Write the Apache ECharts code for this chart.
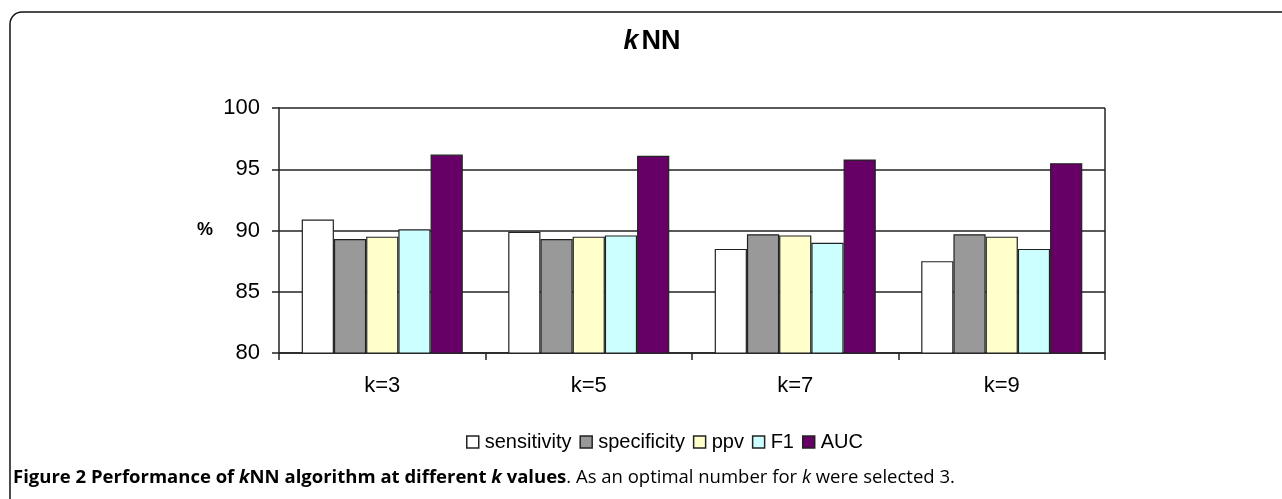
<!DOCTYPE html>
<html>
<head>
<meta charset="utf-8">
<script src="https://cdn.jsdelivr.net/npm/echarts@6/dist/echarts.min.js"></script>
<style>
  html, body { margin: 0; padding: 0; background: #fff; }
  #chart { width: 1282px; height: 499px; }
</style>
</head>
<body>
<div id="chart"></div>
<script>
const categories = ['k=3', 'k=5', 'k=7', 'k=9'];
const sensitivity = [90.9, 89.9, 88.5, 87.5];
const specificity = [89.3, 89.3, 89.7, 89.7];
const ppv = [89.5, 89.5, 89.6, 89.5];
const f1 = [90.1, 89.6, 89.0, 88.5];
const auc = [96.2, 96.1, 95.8, 95.5];
const yTicks = [80, 85, 90, 95, 100];

const seriesDefs = [
  { name: 'sensitivity', data: sensitivity, color: '#ffffff' },
  { name: 'specificity', data: specificity, color: '#999999' },
  { name: 'ppv', data: ppv, color: '#ffffcc' },
  { name: 'F1', data: f1, color: '#ccffff' },
  { name: 'AUC', data: auc, color: '#660066' }
];

const chart = echarts.init(document.getElementById('chart'));
const font = '"Liberation Sans", Arial, sans-serif';
const capFont = '"Open Sans", "Noto Sans", sans-serif';

chart.setOption({
  animation: false,
  backgroundColor: '#fff',
  title: {
    text: '{i|k}{b|NN}',
    left: 647,
    textAlign: 'center',
    top: 23,
    textStyle: {
      rich: {
        i: { fontFamily: font, fontSize: 27, fontWeight: 'bold', fontStyle: 'italic', color: '#000' },
        b: { fontFamily: font, fontSize: 27, fontWeight: 'bold', color: '#000', padding: [0, 0, 0, 3] }
      }
    }
  },
  grid: { left: 279, right: 177, top: 108, bottom: 146 },
  legend: {
    left: 461,
    top: 427,
    icon: 'rect',
    itemWidth: 12,
    itemHeight: 12,
    itemGap: 8,
    textStyle: { fontFamily: font, fontSize: 20, color: '#000', padding: [0, 0, 0, 1] },
    itemStyle: { borderColor: '#222', borderWidth: 1.5 },
    data: seriesDefs.map(s => s.name)
  },
  xAxis: {
    type: 'category',
    data: categories,
    axisLine: { lineStyle: { color: '#222', width: 1.5 } },
    axisTick: { show: true, length: 7, lineStyle: { color: '#222', width: 1.5 } },
    axisLabel: { fontFamily: font, fontSize: 22, color: '#000', margin: 22 }
  },
  yAxis: {
    type: 'value',
    min: yTicks[0],
    max: yTicks[yTicks.length - 1],
    interval: 5,
    axisLine: { show: true, lineStyle: { color: '#222', width: 1.5 } },
    axisTick: { show: true, length: 7, lineStyle: { color: '#222', width: 1.5 } },
    axisLabel: { fontFamily: font, fontSize: 22, color: '#000', margin: 19 },
    splitLine: { show: true, lineStyle: { color: '#222', width: 1.5 } }
  },
  series: seriesDefs.map(s => ({
    name: s.name,
    type: 'bar',
    data: s.data,
    barGap: '0%',
    barCategoryGap: '22%',
    itemStyle: { color: s.color, borderColor: '#222', borderWidth: 1.2 }
  })),
  graphic: [
    {
      type: 'rect',
      shape: { x: 10, y: 12, width: 1320, height: 520, r: 12 },
      style: { fill: 'none', stroke: '#111', lineWidth: 1.5 },
      silent: true,
      z: -1
    },
    {
      type: 'line',
      shape: { x1: 1105, y1: 108, x2: 1105, y2: 353 },
      style: { stroke: '#222', lineWidth: 1.5 },
      z: 10
    },
    {
      type: 'text',
      left: 197,
      top: 221,
      style: { text: '%', fontFamily: font, fontSize: 18, fontWeight: 'bold', fill: '#000' }
    },
    {
      type: 'text',
      x: 13,
      y: 478,
      style: {
        verticalAlign: 'middle',
        text: '{b|Figure 2 Performance of }{bi|k}{b|NN algorithm at different }{bi|k}{b| values}{n|. As an optimal number for }{ni|k}{n| were selected 3.}',
        rich: {
          b: { fontFamily: capFont, fontSize: 18.5, fontWeight: 'bold', fill: '#000' },
          bi: { fontFamily: capFont, fontSize: 18.5, fontWeight: 'bold', fontStyle: 'italic', fill: '#000' },
          n: { fontFamily: capFont, fontSize: 18.5, fill: '#000' },
          ni: { fontFamily: capFont, fontSize: 18.5, fontStyle: 'italic', fill: '#000' }
        }
      }
    }
  ]
});
</script>
</body>
</html>
